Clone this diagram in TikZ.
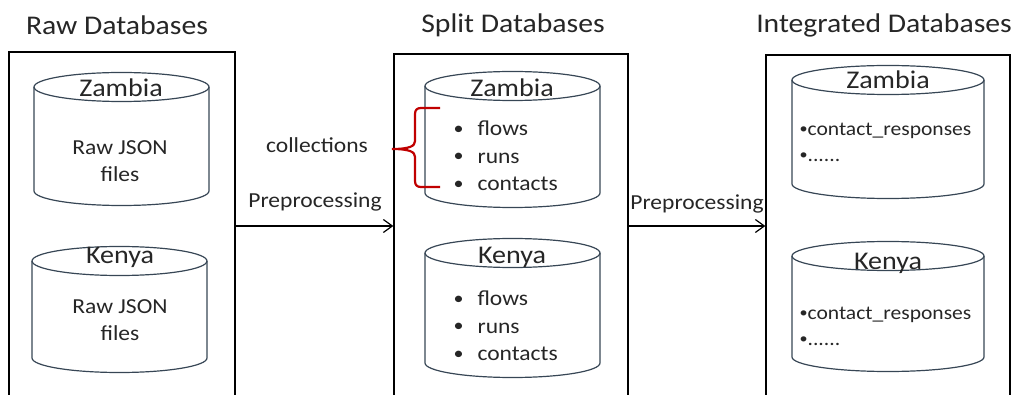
\documentclass[tikz,border=0pt]{standalone}
\usepackage{fontspec}
\setmainfont{Carlito}[FakeStretch=1.1]
\usetikzlibrary{arrows.meta}

\definecolor{ink}{RGB}{38,38,38}
\definecolor{cylline}{RGB}{55,70,85}
\definecolor{bracered}{RGB}{192,0,0}

% database cylinder: centre x, top ellipse centre y, bottom ellipse centre y, x radius, y radius
\newcommand\dbcyl[5]{%
  \draw[cyl] (#1,#2) ellipse [x radius=#4, y radius=#5];
  \draw[cyl] ({#1-#4},#2) -- ({#1-#4},#3)
    .. controls ({#1-#4},{#3+0.5523*#5}) and ({#1-0.5523*#4},{#3+#5}) .. (#1,{#3+#5})
    .. controls ({#1+0.5523*#4},{#3+#5}) and ({#1+#4},{#3+0.5523*#5}) .. ({#1+#4},#3)
    -- ({#1+#4},#2);
}
\newcommand\bul{\makebox[24pt][l]{\raisebox{0.08em}{\scalebox{0.85}{•}}}}
\newcommand\sbul{\raisebox{0.1em}{\scalebox{0.75}{•}}}

\begin{document}
\begin{tikzpicture}[x=1pt,y=-1pt,
  box/.style={draw=black, line width=1.3pt, inner sep=0pt},
  cyl/.style={draw=cylline, line width=1.2pt},
  title/.style={font=\fontsize{27}{32}\selectfont, text=ink},
  dbname/.style={font=\fontsize{25.5}{30}\selectfont, text=ink},
  body/.style={font=\fontsize{21.4}{27}\selectfont, text=ink, align=center},
  items/.style={font=\fontsize{21.4}{27.5}\selectfont, text=ink, align=left, anchor=west},
  smallitems/.style={font=\fontsize{19.6}{26}\selectfont, text=ink, align=left, anchor=west},
  flow/.style={line width=1.2pt, draw=black, -{Straight Barb[length=9pt,width=13pt,line width=1.2pt]}},
  brace/.style={draw=bracered, line width=2.2pt}]

\useasboundingbox (0,0) rectangle (1019,395);
\clip (0,0) rectangle (1019,395);

% column titles
\node[title] (t1) at (117,25) {Raw Databases};
\node[title] (t2) at (513,25) {Split Databases};
\node[title] (t3) at (884,25) {Integrated Databases};

% column frames (open at the bottom edge)
\node[box, minimum width=226pt, minimum height=378pt] (raw) at (122,241) {};
\node[box, minimum width=234pt, minimum height=376pt] (split) at (511,242) {};
\node[box, minimum width=244pt, minimum height=375pt] (integ) at (888,242.5) {};

% raw databases
\dbcyl{121.5}{87}{191}{87.5}{14.5}
\dbcyl{119.5}{261}{358}{87.5}{14.5}
\node[dbname] (rz) at (121,88) {Zambia};
\node[body] (rzt) at (120,161) {Raw JSON\\files};
\node[dbname] (rk) at (120,257) {Kenya};
\node[body] (rkt) at (120,320) {Raw JSON\\files};

% split databases
\dbcyl{512.5}{86}{193}{87.5}{14.5}
\dbcyl{512.5}{253}{363}{87.5}{14.5}
\node[dbname] (sz) at (512,88) {Zambia};
\node[items] (szl) at (450,156) {\bul flows\\\bul runs\\\bul contacts};
\node[dbname] (sk) at (512,257) {Kenya};
\node[items] (skl) at (450,326) {\bul flows\\\bul runs\\\bul contacts};

% integrated databases
\dbcyl{888}{80}{184}{96}{14.5}
\dbcyl{888}{256}{357}{96}{14.5}
\node[dbname] (iz) at (888,80) {Zambia};
\node[smallitems] (izl) at (796,142) {\sbul contact\_responses\\\sbul......};
\node[dbname] (ik) at (888,263) {Kenya};
\node[smallitems] (ikl) at (796,326) {\sbul contact\_responses\\\sbul......};

% collections brace
\node[body] (coll) at (317,145) {collections};
\draw[brace] (440,108) -- (421,108) .. controls (417,108) and (415,110) .. (415,114)
  -- (415,141) .. controls (415,146) and (410,149) .. (392,149)
  .. controls (410,149) and (415,152) .. (415,157)
  -- (415,181) .. controls (415,185) and (417,187) .. (421,187) -- (440,187);

% preprocessing steps
\coordinate (lane) at (0,226);
\draw[flow] (raw.east |- lane) -- (split.west |- lane);
\draw[flow] (split.east |- lane) -- (integ.west |- lane);
\node[body] (p1) at (315,202) {Preprocessing};
\node[body] (p2) at (697,204) {Preprocessing};

\end{tikzpicture}
\end{document}
